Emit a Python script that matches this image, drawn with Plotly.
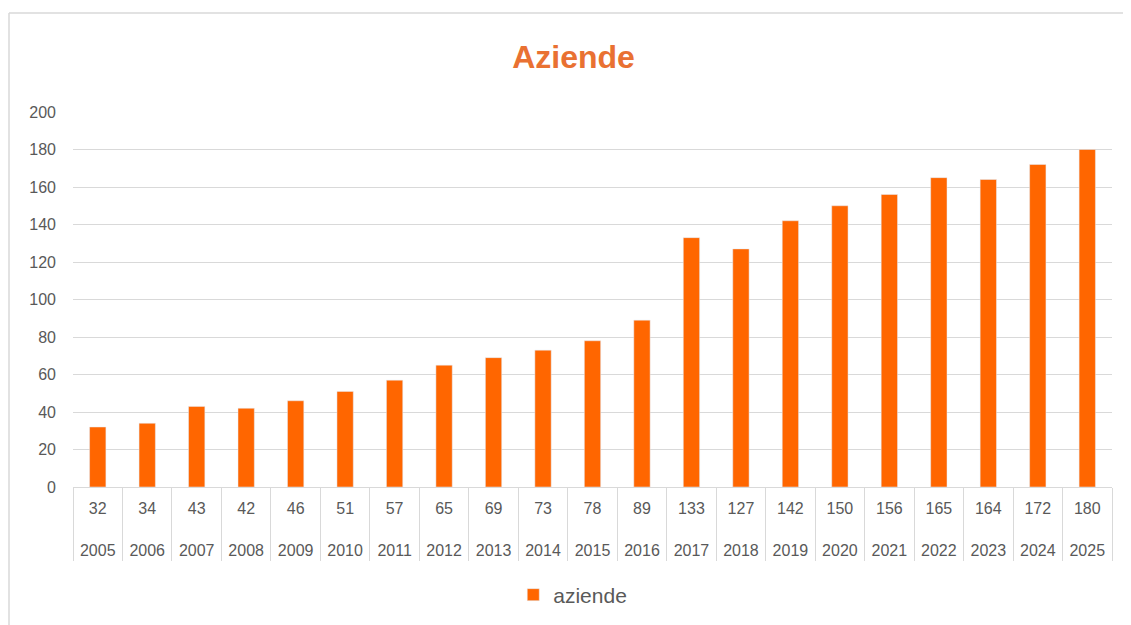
import plotly.graph_objects as go

years = [str(y) for y in range(2005, 2026)]
aziende = [32, 34, 43, 42, 46, 51, 57, 65, 69, 73, 78, 89,
           133, 127, 142, 150, 156, 165, 164, 172, 180]
# Excel-style data table under the axis: value on top, year below
table_labels = [f"{v}<br><br>{y}" for v, y in zip(aziende, years)]

BAR = "#FF6600"
TITLE = "#E97132"
GRID = "#D9D9D9"
TXT = "#595959"
FONT = "Liberation Sans, Arial"

fig = go.Figure()
fig.add_trace(
    go.Bar(
        name="aziende",
        x=years,
        y=aziende,
        marker_color=BAR,
        width=0.33,
    )
)

fig.update_layout(
    width=1131,
    height=625,
    title=dict(
        text="<b>Aziende</b>",
        x=0.5,
        xanchor="center",
        y=0.9216,
        yanchor="middle",
        font=dict(size=32, color=TITLE, family=FONT),
    ),
    paper_bgcolor="white",
    plot_bgcolor="white",
    font=dict(family=FONT, color=TXT, size=16),
    showlegend=True,
    legend=dict(
        orientation="h",
        x=0.481,
        xanchor="center",
        y=-0.288,
        yanchor="middle",
        itemwidth=30,
        font=dict(size=21, color=TXT),
    ),
    margin=dict(l=65, r=27, t=104, b=146),
    xaxis=dict(
        type="category",
        tickvals=years,
        ticktext=table_labels,
        tickson="boundaries",
        ticks="outside",
        ticklen=73,
        tickcolor=GRID,
        tickwidth=1,
        showgrid=False,
        showline=True,
        linecolor=GRID,
        linewidth=1,
        ticklabelstandoff=7,
        tickfont=dict(size=16, color=TXT),
    ),
    yaxis=dict(
        range=[0, 200],
        dtick=20,
        gridcolor=GRID,
        gridwidth=1,
        zeroline=False,
        showline=False,
        ticks="",
        ticklabelstandoff=16,
        tickfont=dict(size=16, color=TXT),
    ),
    shapes=[
        dict(type="line", xref="paper", yref="paper",
             x0=-0.0616, x1=1.05, y0=1.264, y1=1.264,
             line=dict(color=GRID, width=1.5)),
        dict(type="line", xref="paper", yref="paper",
             x0=-0.0616, x1=-0.0616, y0=1.264, y1=-0.4,
             line=dict(color=GRID, width=1.5)),
    ],
)

fig.write_html("out.html")
